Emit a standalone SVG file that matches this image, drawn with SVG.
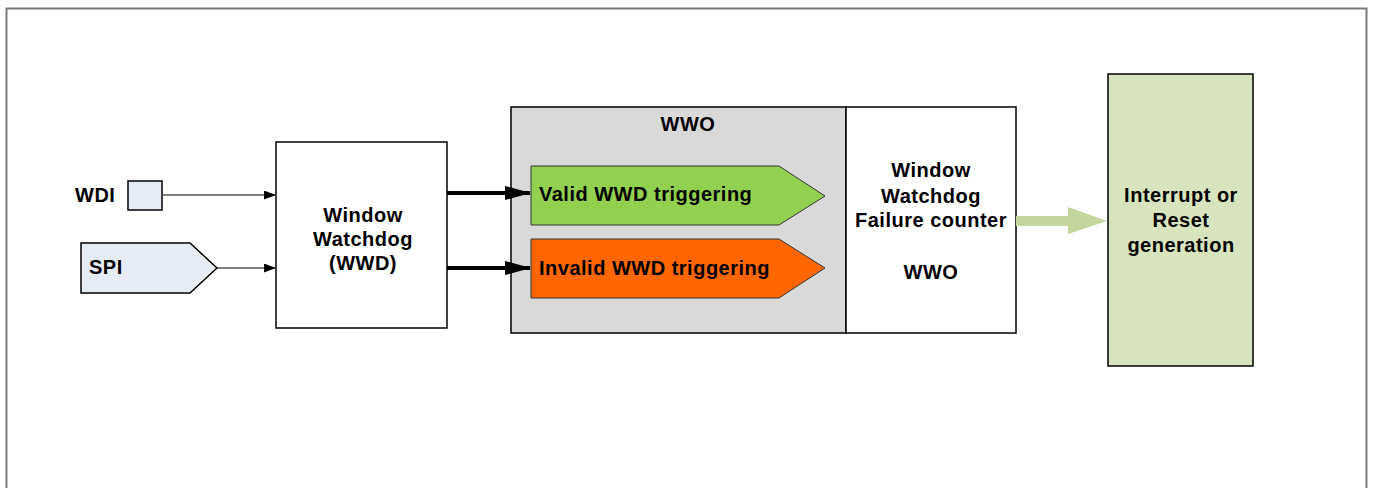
<svg xmlns="http://www.w3.org/2000/svg" width="1373" height="488" viewBox="0 0 1373 488">
<style>
text{font-family:"Liberation Sans",Arial,sans-serif;font-weight:bold;font-size:20px;letter-spacing:0.5px;fill:#000}
.c{text-anchor:middle}
.box{stroke:#000;stroke-width:1.5}
</style>
<defs>
<marker id="a" markerWidth="12" markerHeight="9" refX="11" refY="4.5" orient="auto" markerUnits="userSpaceOnUse"><path d="M0,0L12,4.5L0,9z" fill="#000"/></marker>
<marker id="b" markerWidth="26" markerHeight="14" refX="25" refY="7" orient="auto" markerUnits="userSpaceOnUse"><path d="M0,0L26,7L0,14z" fill="#000"/></marker>
</defs>
<rect width="1373" height="488" fill="#fff"/>
<path d="M6.5,488V8.5H1366.5V488" fill="none" stroke="#7a7a7a" stroke-width="2"/>
<g id="wdi">
<rect class="box" x="128" y="181" width="34" height="29" fill="#e6ecf5" stroke-width="1"/>
<text x="75" y="202">WDI</text>
</g>
<g id="spi">
<path class="box" d="M81,243H190L217,268L190,293H81z" fill="#e6ecf5" stroke-width="1"/>
<text x="89" y="274">SPI</text>
</g>
<g id="wwd">
<rect class="box" x="276" y="142" width="171" height="186" fill="#fff"/>
<text class="c" x="363" y="222">Window</text>
<text class="c" x="363" y="246">Watchdog</text>
<text class="c" x="363" y="270">(WWD)</text>
</g>
<g id="wwo">
<rect class="box" x="511" y="107" width="335" height="226" fill="#d9d9d9"/>
<text class="c" x="688" y="131">WWO</text>
</g>
<g id="valid">
<path d="M531,166H779L825,196L779,225H531z" fill="#92d050" stroke="#333" stroke-width="1"/>
<text x="539" y="201">Valid WWD triggering</text>
</g>
<g id="invalid">
<path d="M531,239H779L825,268L779,298H531z" fill="#ff6600" stroke="#333" stroke-width="1"/>
<text x="539" y="275">Invalid WWD triggering</text>
</g>
<g id="counter">
<rect class="box" x="846" y="107" width="170" height="226" fill="#fff"/>
<text class="c" x="931" y="177">Window</text>
<text class="c" x="931" y="203">Watchdog</text>
<text class="c" x="931" y="227">Failure counter</text>
<text class="c" x="931" y="279">WWO</text>
</g>
<g id="irq">
<rect class="box" x="1108" y="74" width="145" height="292" fill="#d7e4bd"/>
<text class="c" x="1181" y="202">Interrupt or</text>
<text class="c" x="1181" y="227">Reset</text>
<text class="c" x="1181" y="252">generation</text>
</g>
<g id="connectors">
<path d="M163,195H275" stroke="#000" stroke-width="1.2" marker-end="url(#a)"/>
<path d="M217,268H275" stroke="#000" stroke-width="1.2" marker-end="url(#a)"/>
<path d="M447,193H530" stroke="#000" stroke-width="4" marker-end="url(#b)"/>
<path d="M447,268H530" stroke="#000" stroke-width="4" marker-end="url(#b)"/>
<path d="M1016,216H1068V207L1107,221L1068,234V226H1016z" fill="#c3d69b"/>
</g>
</svg>
